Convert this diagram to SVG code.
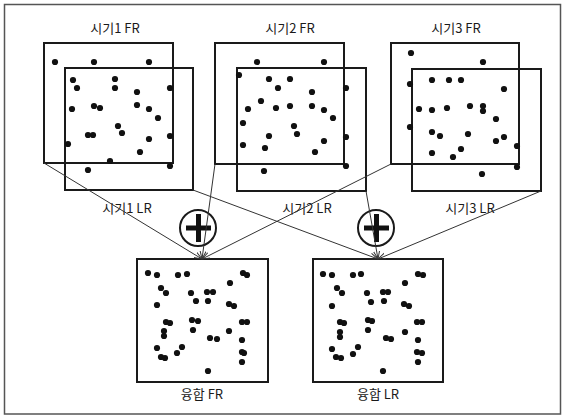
<svg xmlns="http://www.w3.org/2000/svg" width="562" height="416" viewBox="0 0 562 416">
<style>
.box{fill:none;stroke:#1a1a1a;stroke-width:2}
.lbl{font-family:"Noto Sans CJK KR","Noto Sans",sans-serif;font-size:13px;fill:#1a1a1a;text-anchor:middle}
.dots circle{fill:#111;r:3.1px}
.conn line{stroke:#333;stroke-width:1;fill:none}
.plus circle{fill:none;stroke:#1a1a1a;stroke-width:2}
.plus rect{fill:#111}
</style>
<defs>
<marker id="arr" viewBox="0 0 8 8" refX="8" refY="4" markerWidth="8" markerHeight="8" markerUnits="userSpaceOnUse" orient="auto">
<path d="M0,1 L8,4 L0,7" fill="none" stroke="#333" stroke-width="1"/>
</marker>
</defs>
<rect x="4.5" y="4.5" width="556" height="409.5" fill="#fff" stroke="#555" stroke-width="1.5"/>

<g id="p1">
<text class="lbl" x="115" y="33">시기1 FR</text>
<rect class="box" x="44" y="43" width="129" height="120"/>
<rect class="box" x="65" y="68" width="128" height="122"/>
<text class="lbl" x="127" y="213">시기1 LR</text>
<g class="dots">
<circle cx="55" cy="62" r="3"/><circle cx="94" cy="62" r="3"/><circle cx="149" cy="62" r="3"/>
<circle cx="73" cy="80" r="3"/><circle cx="77" cy="88" r="3"/><circle cx="115" cy="79" r="3"/>
<circle cx="115" cy="88" r="3"/><circle cx="137" cy="92" r="3"/><circle cx="170" cy="88" r="3"/>
<circle cx="72" cy="109" r="3"/><circle cx="94" cy="106" r="3"/><circle cx="100" cy="108" r="3"/>
<circle cx="137" cy="105" r="3"/><circle cx="149" cy="109" r="3"/><circle cx="158" cy="118" r="3"/>
<circle cx="118" cy="126" r="3"/><circle cx="122" cy="133" r="3"/><circle cx="88" cy="135" r="3"/>
<circle cx="93" cy="135" r="3"/><circle cx="170" cy="136" r="3"/><circle cx="149" cy="139" r="3"/>
<circle cx="68" cy="144" r="3"/><circle cx="140" cy="152" r="3"/><circle cx="110" cy="161" r="3"/>
<circle cx="170" cy="166" r="3"/><circle cx="88" cy="170" r="3"/>
</g>
</g>

<g id="p2">
<text class="lbl" x="290" y="33">시기2 FR</text>
<rect class="box" x="215" y="43" width="129" height="121"/>
<rect class="box" x="237" y="68" width="129" height="123"/>
<text class="lbl" x="307" y="213">시기2 LR</text>
<g class="dots">
<circle cx="257" cy="62" r="3"/><circle cx="324" cy="62" r="3"/><circle cx="239" cy="75" r="3"/>
<circle cx="269" cy="79" r="3"/><circle cx="290" cy="79" r="3"/><circle cx="278" cy="88" r="3"/>
<circle cx="312" cy="92" r="3"/><circle cx="346" cy="88" r="3"/><circle cx="261" cy="101" r="3"/>
<circle cx="248" cy="109" r="3"/><circle cx="276" cy="108" r="3"/><circle cx="290" cy="106" r="3"/>
<circle cx="312" cy="106" r="3"/><circle cx="324" cy="110" r="3"/><circle cx="333" cy="118" r="3"/>
<circle cx="243" cy="123" r="3"/><circle cx="294" cy="126" r="3"/><circle cx="297" cy="134" r="3"/>
<circle cx="269" cy="136" r="3"/><circle cx="346" cy="137" r="3"/><circle cx="324" cy="141" r="3"/>
<circle cx="243" cy="145" r="3"/><circle cx="265" cy="148" r="3"/><circle cx="315" cy="152" r="3"/>
<circle cx="346" cy="166" r="3"/><circle cx="264" cy="171" r="3"/>
</g>
</g>

<g id="p3">
<text class="lbl" x="456" y="33">시기3 FR</text>
<rect class="box" x="391" y="43" width="128" height="121"/>
<rect class="box" x="412" y="69" width="129" height="122"/>
<text class="lbl" x="470" y="213">시기3 LR</text>
<g class="dots">
<circle cx="411" cy="53" r="3"/><circle cx="483" cy="62" r="3"/><circle cx="410" cy="84" r="3"/>
<circle cx="432" cy="80" r="3"/><circle cx="449" cy="80" r="3"/><circle cx="461" cy="80" r="3"/>
<circle cx="504" cy="89" r="3"/><circle cx="419" cy="109" r="3"/><circle cx="432" cy="110" r="3"/>
<circle cx="447" cy="108" r="3"/><circle cx="470" cy="106" r="3"/><circle cx="483" cy="106" r="3"/>
<circle cx="483" cy="111" r="3"/><circle cx="496" cy="119" r="3"/><circle cx="410" cy="127" r="3"/>
<circle cx="432" cy="132" r="3"/><circle cx="440" cy="136" r="3"/><circle cx="468" cy="134" r="3"/>
<circle cx="496" cy="141" r="3"/><circle cx="504" cy="137" r="3"/><circle cx="517" cy="146" r="3"/>
<circle cx="461" cy="149" r="3"/><circle cx="432" cy="153" r="3"/><circle cx="453" cy="157" r="3"/>
<circle cx="517" cy="167" r="3"/><circle cx="482" cy="174" r="3"/>
</g>
</g>

<g id="fusion-fr">
<rect class="box" x="137" y="259" width="131" height="123"/>
<text class="lbl" x="202" y="399">융합 FR</text>
<g class="dots">
<circle cx="148" cy="273" r="3"/><circle cx="157" cy="275" r="3"/><circle cx="178" cy="275" r="3"/>
<circle cx="187" cy="274" r="3"/><circle cx="243" cy="273" r="3"/><circle cx="247" cy="275" r="3"/>
<circle cx="161" cy="288" r="3"/><circle cx="166" cy="293" r="3"/><circle cx="230" cy="283" r="3"/>
<circle cx="191" cy="293" r="3"/><circle cx="207" cy="292" r="3"/><circle cx="213" cy="292" r="3"/>
<circle cx="196" cy="301" r="3"/><circle cx="208" cy="301" r="3"/><circle cx="157" cy="305" r="3"/>
<circle cx="229" cy="304" r="3"/><circle cx="234" cy="306" r="3"/><circle cx="166" cy="322" r="3"/>
<circle cx="170" cy="323" r="3"/><circle cx="192" cy="320" r="3"/><circle cx="198" cy="321" r="3"/>
<circle cx="242" cy="322" r="3"/><circle cx="247" cy="322" r="3"/><circle cx="164" cy="331" r="3"/>
<circle cx="164" cy="336" r="3"/><circle cx="193" cy="330" r="3"/><circle cx="229" cy="331" r="3"/>
<circle cx="210" cy="338" r="3"/><circle cx="217" cy="339" r="3"/><circle cx="242" cy="340" r="3"/>
<circle cx="157" cy="348" r="3"/><circle cx="182" cy="347" r="3"/><circle cx="177" cy="353" r="3"/>
<circle cx="161" cy="357" r="3"/><circle cx="165" cy="358" r="3"/><circle cx="242" cy="352" r="3"/>
<circle cx="244" cy="353" r="3"/><circle cx="242" cy="362" r="3"/><circle cx="208" cy="371" r="3"/>
</g>
</g>

<g id="fusion-lr">
<rect class="box" x="313" y="259" width="130" height="123"/>
<text class="lbl" x="378" y="399">융합 LR</text>
<g class="dots">
<circle cx="323" cy="274" r="3"/><circle cx="332" cy="275" r="3"/><circle cx="353" cy="275" r="3"/>
<circle cx="361" cy="274" r="3"/><circle cx="418" cy="274" r="3"/><circle cx="423" cy="275" r="3"/>
<circle cx="337" cy="288" r="3"/><circle cx="342" cy="293" r="3"/><circle cx="405" cy="283" r="3"/>
<circle cx="367" cy="293" r="3"/><circle cx="383" cy="292" r="3"/><circle cx="388" cy="292" r="3"/>
<circle cx="371" cy="302" r="3"/><circle cx="384" cy="301" r="3"/><circle cx="332" cy="306" r="3"/>
<circle cx="404" cy="304" r="3"/><circle cx="409" cy="306" r="3"/><circle cx="340" cy="322" r="3"/>
<circle cx="344" cy="323" r="3"/><circle cx="368" cy="320" r="3"/><circle cx="372" cy="321" r="3"/>
<circle cx="417" cy="322" r="3"/><circle cx="422" cy="322" r="3"/><circle cx="340" cy="332" r="3"/>
<circle cx="340" cy="337" r="3"/><circle cx="368" cy="330" r="3"/><circle cx="405" cy="332" r="3"/>
<circle cx="386" cy="338" r="3"/><circle cx="391" cy="339" r="3"/><circle cx="418" cy="340" r="3"/>
<circle cx="332" cy="349" r="3"/><circle cx="358" cy="347" r="3"/><circle cx="353" cy="354" r="3"/>
<circle cx="336" cy="357" r="3"/><circle cx="341" cy="358" r="3"/><circle cx="417" cy="352" r="3"/>
<circle cx="422" cy="353" r="3"/><circle cx="418" cy="362" r="3"/><circle cx="383" cy="371" r="3"/>
</g>
</g>

<g id="plus1" class="plus">
<circle cx="198" cy="228" r="18"/>
<rect x="186" y="225.5" width="25" height="5"/>
<rect x="196" y="214" width="5" height="28"/>
</g>
<g id="plus2" class="plus">
<circle cx="376" cy="228" r="18"/>
<rect x="364" y="225.5" width="25" height="5"/>
<rect x="374" y="214" width="5" height="28"/>
</g>

<g id="connectors" class="conn">
<line x1="44" y1="163" x2="202" y2="259" marker-end="url(#arr)"/>
<line x1="215" y1="164" x2="202" y2="259" marker-end="url(#arr)"/>
<line x1="391" y1="164" x2="202" y2="259" marker-end="url(#arr)"/>
<line x1="193" y1="190" x2="378" y2="259" marker-end="url(#arr)"/>
<line x1="366" y1="191" x2="378" y2="259" marker-end="url(#arr)"/>
<line x1="541" y1="191" x2="378" y2="259" marker-end="url(#arr)"/>
</g>
</svg>
